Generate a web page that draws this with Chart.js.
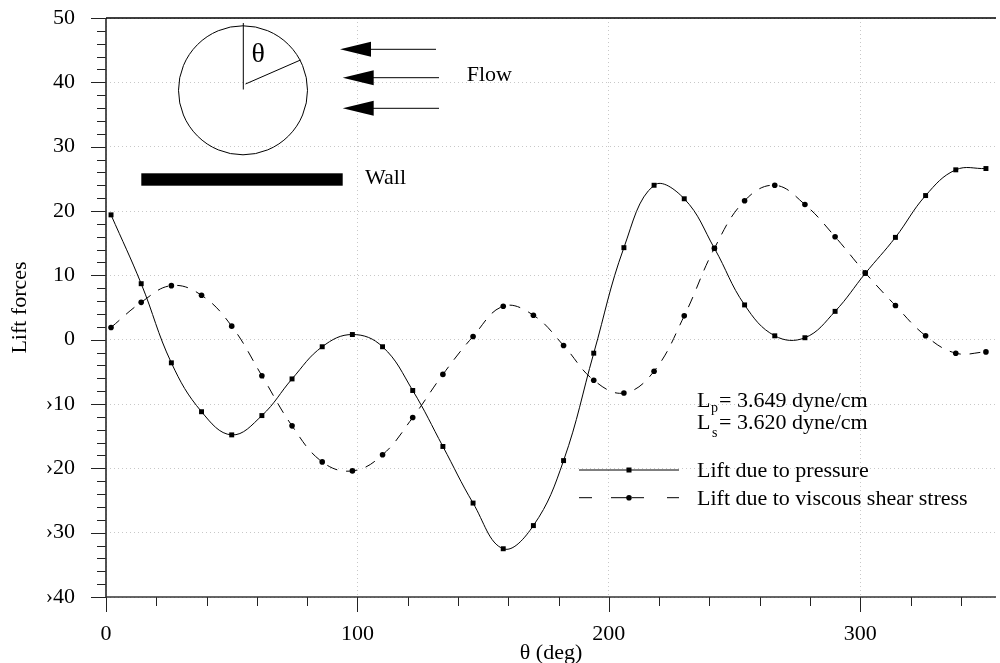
<!DOCTYPE html>
<html><head><meta charset="utf-8">
<script src="https://cdn.jsdelivr.net/npm/chart.js@4/dist/chart.umd.min.js"></script>
<style>html,body{margin:0;padding:0;background:#fff}#wrap{width:1000px;height:663px}</style>
</head><body><div id="wrap"><canvas id="c" width="1000" height="663"></canvas></div>
<script>
// ---- data ----
const thetaDeg = [2,14,26,38,50,62,74,86,98,110,122,134,146,158,170,182,194,206,218,230,242,254,266,278,290,302,314,326,338,350];
const liftPressure = [19.4,8.7,-3.6,-11.2,-14.8,-11.8,-6.1,-1.1,0.8,-1.1,-7.9,-16.6,-25.4,-32.5,-28.9,-18.8,-2.1,14.3,24.0,21.9,14.2,5.4,0.6,0.3,4.4,10.3,15.9,22.4,26.4,26.6];
const liftShear = [1.9,5.8,8.4,6.9,2.1,-5.6,-13.4,-19.0,-20.4,-17.9,-12.1,-5.4,0.5,5.2,3.8,-0.9,-6.3,-8.3,-4.9,3.7,14.2,21.6,24.0,21.0,16.0,10.4,5.3,0.6,-2.1,-1.9];
const seriesLabels = ['Lift due to pressure', 'Lift due to viscous shear stress'];
const yRange = [-40, 50];
const xRange = [0, 354];
const yMajorStep = 10, yMinorStep = 2;
const xMajorStep = 100, xMinorStep = 20;
const resultLines = [['L','p','= 3.649 dyne/cm'], ['L','s','= 3.620 dyne/cm']];
const xTitle = '\u03b8 (deg)';
const yTitle = 'Lift forces';

const FONT = '"Liberation Serif", "Times New Roman", serif';
const toPts = ys => thetaDeg.map((t,i)=>({x:t, y:ys[i]}));
const yLabel = v => v < 0 ? '\u203a' + Math.abs(v) : String(v);

const decor = {
  id: 'decor',
  afterDraw(chart) {
    const {ctx, chartArea: a, scales: {x, y}} = chart;
    ctx.save();
    // tick marks
    ctx.strokeStyle = '#222'; ctx.lineWidth = 1;
    for (let v = yRange[0]; v <= yRange[1]; v += yMinorStep) {
      const py = Math.round(y.getPixelForValue(v)) + 0.5;
      const len = (v % yMajorStep === 0) ? 15 : 9;
      ctx.beginPath(); ctx.moveTo(a.left - len, py); ctx.lineTo(a.left, py); ctx.stroke();
    }
    for (let v = xRange[0]; v <= xRange[1]; v += xMinorStep) {
      const px = Math.round(x.getPixelForValue(v)) + 0.5;
      const len = (v % xMajorStep === 0) ? 15 : 9;
      ctx.beginPath(); ctx.moveTo(px, a.bottom); ctx.lineTo(px, a.bottom + len); ctx.stroke();
    }
    // axes
    ctx.strokeStyle = '#333'; ctx.lineWidth = 1.7;
    ctx.beginPath(); ctx.moveTo(a.left, a.top); ctx.lineTo(a.left, a.bottom); ctx.stroke();
    ctx.beginPath(); ctx.moveTo(a.left, a.bottom); ctx.lineTo(a.right, a.bottom); ctx.stroke();
    ctx.strokeStyle = '#000'; ctx.lineWidth = 1.3;
    ctx.beginPath(); ctx.moveTo(a.left, a.top); ctx.lineTo(a.right, a.top); ctx.stroke();

    // inset diagram
    ctx.strokeStyle = '#000'; ctx.lineWidth = 1;
    ctx.beginPath(); ctx.arc(243, 90.3, 64.5, 0, Math.PI * 2); ctx.stroke();
    ctx.beginPath(); ctx.moveTo(243.3, 23); ctx.lineTo(243.3, 89.5); ctx.stroke();
    ctx.beginPath(); ctx.moveTo(245.5, 84); ctx.lineTo(300.5, 60); ctx.stroke();
    ctx.fillStyle = '#000';
    ctx.font = '28px ' + FONT; ctx.textAlign = 'left'; ctx.textBaseline = 'alphabetic';
    ctx.fillText('\u03b8', 251.5, 61.5);
    const arrows = [[340, 49.3, 436], [342.7, 77.7, 439], [342.7, 108.3, 439]];
    arrows.forEach(([tip, ay, end]) => {
      ctx.beginPath(); ctx.moveTo(tip, ay); ctx.lineTo(tip + 31, ay - 7.5); ctx.lineTo(tip + 31, ay + 7.5); ctx.closePath(); ctx.fill();
      ctx.beginPath(); ctx.moveTo(tip + 30, ay); ctx.lineTo(end, ay); ctx.stroke();
    });
    ctx.fillRect(141.3, 173.3, 201.4, 12.4);
    ctx.font = '22px ' + FONT;
    ctx.fillText('Flow', 466.7, 80.7);
    ctx.fillText('Wall', 365, 184);

    // result text
    const bases = [406.7, 429.3], subBases = [412, 436.5], subX = [711, 712];
    resultLines.forEach((r, i) => {
      ctx.font = '22px ' + FONT; ctx.fillText(r[0], 697, bases[i]);
      ctx.font = '14px ' + FONT; ctx.fillText(r[1], subX[i], subBases[i]);
      ctx.font = '22px ' + FONT; ctx.fillText(r[2], 719, bases[i]);
    });

    // legend
    const ds = chart.data.datasets;
    const lx0 = 579, lx1 = 679, mx = 629;
    const ly = [470, 497.7], tb = [477.3, 505];
    ctx.font = '22px ' + FONT;
    ctx.lineWidth = 1; ctx.strokeStyle = '#000';
    ctx.beginPath(); ctx.moveTo(lx0, ly[0]); ctx.lineTo(lx1, ly[0]); ctx.stroke();
    ctx.fillRect(mx - 2.5, ly[0] - 2.5, 5, 5);
    ctx.fillText(ds[0].label, 697, tb[0]);
    [[579, 592], [611, 627], [632, 644], [667, 679]].forEach(([s, e]) => {
      ctx.beginPath(); ctx.moveTo(s, ly[1]); ctx.lineTo(e, ly[1]); ctx.stroke();
    });
    ctx.beginPath(); ctx.arc(mx, ly[1], 2.8, 0, Math.PI * 2); ctx.fill();
    ctx.fillText(ds[1].label, 697, tb[1]);
    ctx.restore();
  }
};

new Chart(document.getElementById('c'), {
  type: 'line',
  data: {
    datasets: [
      { label: seriesLabels[0], data: toPts(liftPressure), borderColor: '#000', borderWidth: 1,
        pointStyle: 'rect', pointRadius: 3.5, pointBorderWidth: 0, pointBackgroundColor: '#000',
        tension: 0.4, fill: false },
      { label: seriesLabels[1], data: toPts(liftShear), borderColor: '#000', borderWidth: 1,
        borderDash: [11, 9], pointStyle: 'circle', pointRadius: 2.8, pointBorderWidth: 0,
        pointBackgroundColor: '#000', tension: 0.4, fill: false }
    ]
  },
  options: {
    responsive: false, animation: false, devicePixelRatio: 1,
    layout: { padding: { top: 18, right: 0, left: 0, bottom: 0 } },
    plugins: { legend: { display: false }, tooltip: { enabled: false } },
    scales: {
      x: {
        type: 'linear', min: xRange[0], max: xRange[1],
        ticks: { stepSize: xMajorStep, includeBounds: false, maxRotation: 0, autoSkip: false,
                 padding: 24, color: '#000', font: { family: FONT, size: 22 } },
        grid: { drawTicks: false, color: '#c8c8c8', lineWidth: 1 },
        border: { display: false, dash: [1, 3] },
        title: { display: true, text: xTitle, color: '#000', font: { family: FONT, size: 22 },
                 padding: { top: 0, bottom: -3 } },
        afterFit: s => { s.height = 66; s.paddingLeft = 0; s.paddingRight = 0; }
      },
      y: {
        type: 'linear', min: yRange[0], max: yRange[1],
        ticks: { stepSize: yMajorStep, padding: 31, color: '#000', font: { family: FONT, size: 22 },
                 callback: v => yLabel(v) },
        grid: { drawTicks: false, color: '#c8c8c8', lineWidth: 1 },
        border: { display: false, dash: [1, 3] },
        title: { display: true, text: yTitle, color: '#000', font: { family: FONT, size: 22 },
                 padding: { top: 7, bottom: 0 } },
        afterFit: s => { s.width = 106; s.paddingTop = 0; s.paddingBottom = 0; }
      }
    }
  },
  plugins: [decor]
});
</script></body></html>
